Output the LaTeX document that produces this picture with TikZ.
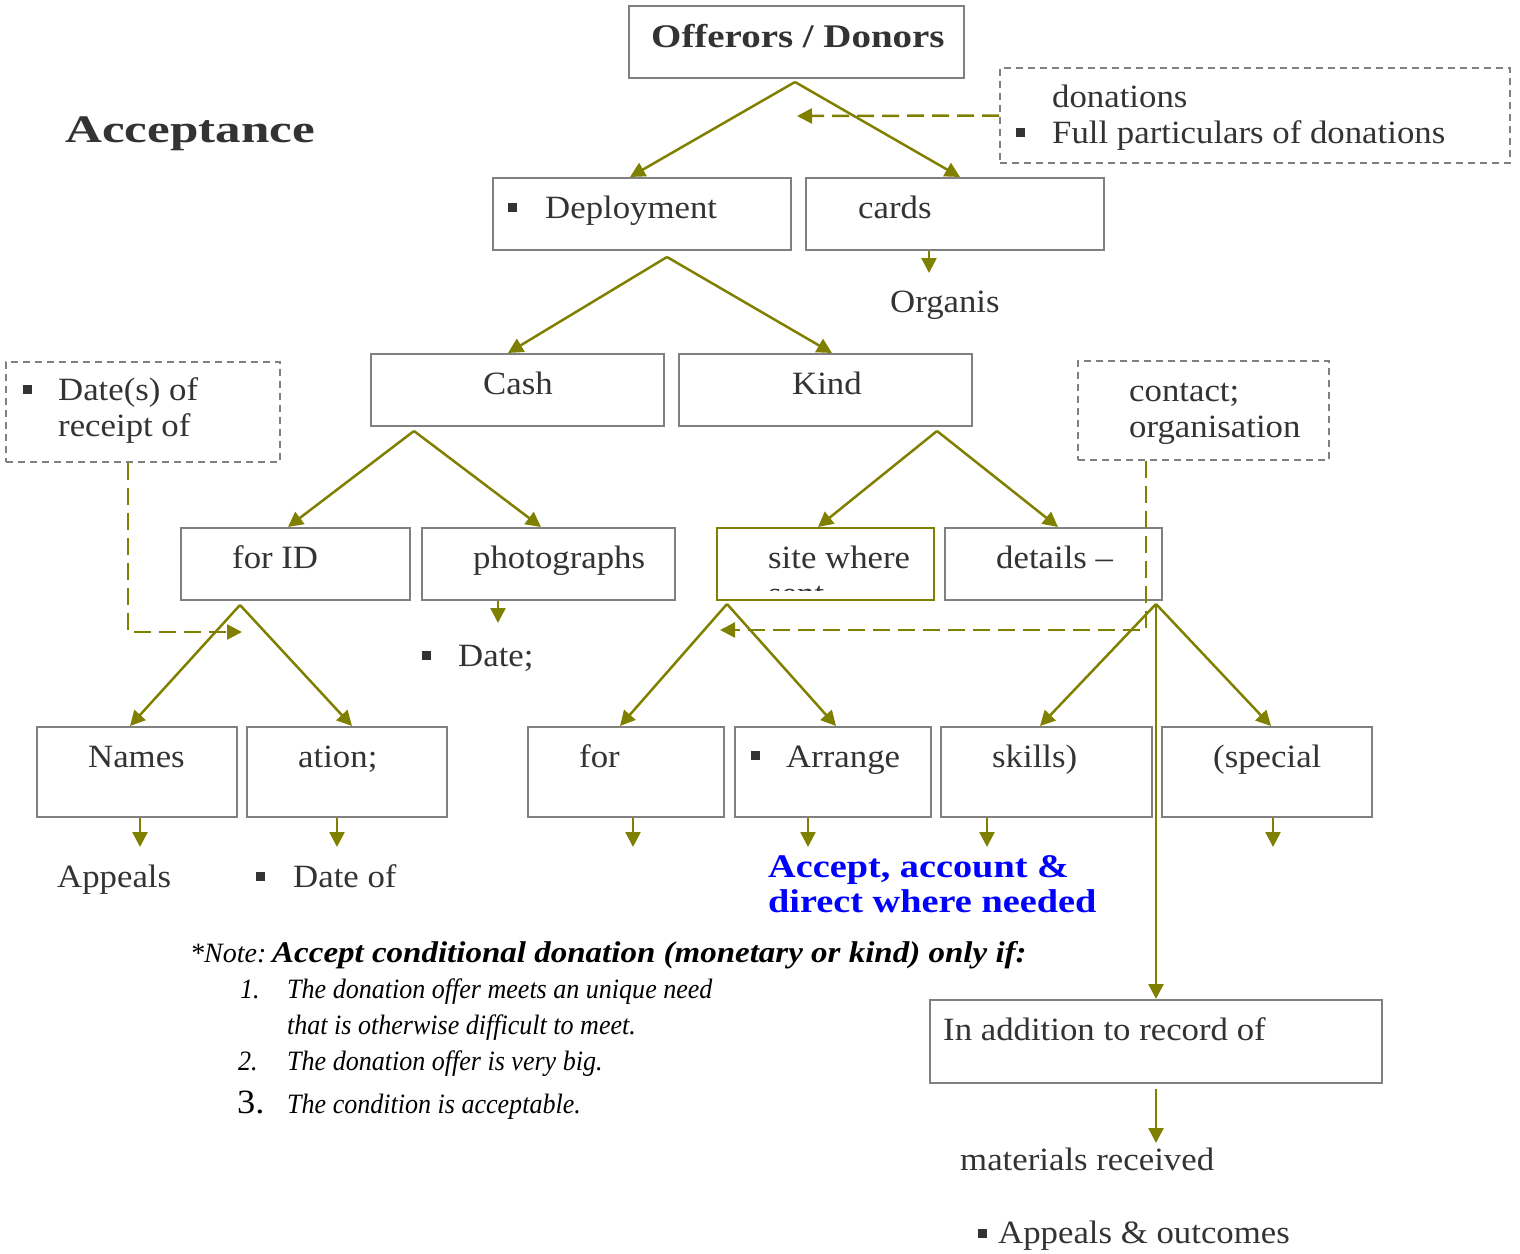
\documentclass[tikz,border=0pt]{standalone}
\usepackage{fontspec}
\usetikzlibrary{arrows.meta}
\setmainfont{Liberation Serif}
\newfontfamily\bodyf{Liberation Serif}[FakeStretch=1.07]
\newfontfamily\headf{Liberation Serif}[FakeStretch=1.18]
\newfontfamily\bluef{Liberation Serif}[FakeStretch=1.16]
\newfontfamily\titlef{Liberation Serif}[FakeStretch=1.31]
\newfontfamily\notef{Liberation Serif}[FakeStretch=0.93]
\newfontfamily\notebf{Liberation Serif}[FakeStretch=1.1]
\definecolor{inkgray}{HTML}{333333}
\definecolor{framegray}{HTML}{808080}
\definecolor{oliveline}{HTML}{808000}
\definecolor{callblue}{HTML}{0000FF}
\tikzset{
  frame/.style={draw=framegray, line width=2pt, fill=white, inner sep=0pt},
  dashframe/.style={draw=framegray, line width=1.6pt, dash pattern=on 7pt off 5pt, inner sep=0pt},
  txt/.style={inner sep=0pt, anchor=base west, text=inkgray, font=\bodyf\fontsize{32.5}{36}\selectfont},
  headtxt/.style={inner sep=0pt, anchor=base west, text=inkgray, font=\headf\bfseries\fontsize{33}{36}\selectfont},
  bluetxt/.style={inner sep=0pt, anchor=base west, text=callblue, font=\bluef\bfseries\fontsize{33}{36}\selectfont},
  notetxt/.style={inner sep=0pt, anchor=base west, text=black, font=\notef\itshape\fontsize{28}{32}\selectfont},
  bul/.style={fill=inkgray, inner sep=0pt, minimum size=9pt},
  arr/.style={draw=oliveline, line width=2.5pt, -{Triangle[length=15pt,width=15pt]}},
  darr/.style={draw=oliveline, line width=2.5pt, dash pattern=on 17pt off 8pt, -{Triangle[length=15pt,width=15pt]}},
}
\begin{document}
\begin{tikzpicture}[x=1pt,y=-1pt]
\useasboundingbox (0,0) rectangle (1520,1253);

% ---------- boxes ----------
\node[frame, minimum width=335pt, minimum height=72pt] (off) at (796.5,42) {};
\node[frame, minimum width=298pt, minimum height=72pt] (dep) at (642,214) {};
\node[frame, minimum width=298pt, minimum height=72pt] (cards) at (955,214) {};
\node[frame, minimum width=293pt, minimum height=72pt] (cash) at (517.5,390) {};
\node[frame, minimum width=293pt, minimum height=72pt] (kind) at (825.5,390) {};
\node[frame, minimum width=229pt, minimum height=72pt] (forid) at (295.5,564) {};
\node[frame, minimum width=253pt, minimum height=72pt] (photo) at (548.5,564) {};
\node[frame, draw=oliveline, minimum width=217pt, minimum height=72pt] (site) at (825.5,564) {};
\node[frame, minimum width=217pt, minimum height=72pt] (det) at (1053.5,564) {};
\node[frame, minimum width=200pt, minimum height=90pt] (names) at (137,772) {};
\node[frame, minimum width=200pt, minimum height=90pt] (ation) at (347,772) {};
\node[frame, minimum width=196pt, minimum height=90pt] (forb) at (626,772) {};
\node[frame, minimum width=196pt, minimum height=90pt] (arrb) at (833,772) {};
\node[frame, minimum width=211pt, minimum height=90pt] (skills) at (1046.5,772) {};
\node[frame, minimum width=210pt, minimum height=90pt] (special) at (1267,772) {};
\node[frame, minimum width=452pt, minimum height=83pt] (addn) at (1156,1041.5) {};

% dashed side boxes
\node[dashframe, minimum width=510pt, minimum height=95pt] (dpart) at (1255,115.5) {};
\node[dashframe, minimum width=274pt, minimum height=100pt] (drec) at (143,412) {};
\node[dashframe, minimum width=251pt, minimum height=99pt] (dcon) at (1203.5,410.5) {};

% ---------- texts ----------
\node[inner sep=0pt, anchor=base west, text=inkgray, font=\titlef\bfseries\fontsize{39}{44}\selectfont] (title) at (65,142) {Acceptance};
\node[headtxt] (offT) at (651,47) {Offerors / Donors};

\node[txt] (dpartT1) at (1052,107) {donations};
\node[bul] (dpartB) at (1020.5,132.5) {};
\node[txt] (dpartT2) at (1052,143) {Full particulars of donations};

\node[bul] (depB) at (512.5,207) {};
\node[txt] (depT) at (545,218) {Deployment};
\node[txt] (cardsT) at (858,218) {cards};
\node[txt] (orgT) at (890,312) {Organis};

\node[txt] (cashT) at (483,394) {Cash};
\node[txt] (kindT) at (792,394) {Kind};

\node[bul] (drecB) at (27.5,389) {};
\node[txt] (drecT1) at (58,400) {Date(s) of};
\node[txt] (drecT2) at (58,436) {receipt of};
\node[txt] (dconT1) at (1129,401) {contact;};
\node[txt] (dconT2) at (1129,437) {organisation};

\node[txt] (foridT) at (232,568) {for ID};
\node[txt] (photoT) at (473,568) {photographs};
\node[txt] (siteT1) at (768,568) {site where};
\begin{scope}
  \clip (718,529) rectangle (933,590);
  \node[txt] (siteT2) at (768,604) {sent};
\end{scope}
\node[txt] (detT) at (996,568) {details –};

\node[bul] (dateB) at (426,655) {};
\node[txt] (dateT) at (458,666) {Date;};

\node[txt] (namesT) at (88,767) {Names};
\node[txt] (ationT) at (298,767) {ation;};
\node[txt] (forbT) at (579,767) {for};
\node[bul] (arrbB) at (755,755) {};
\node[txt] (arrbT) at (786,767) {Arrange};
\node[txt] (skillsT) at (992,767) {skills)};
\node[txt] (specialT) at (1213,767) {(special};

\node[txt] (appT) at (57,887) {Appeals};
\node[bul] (dofB) at (260.5,876) {};
\node[txt] (dofT) at (293,887) {Date of};

\node[bluetxt] (blue1) at (768,877) {Accept, account \&};
\node[bluetxt] (blue2) at (768,912) {direct where needed};

% conditions note
\node[inner sep=0pt, anchor=base west, text=black, font=\rmfamily\itshape\fontsize{28}{32}\selectfont] (noteA) at (190,962) {*Note:};
\node[inner sep=0pt, anchor=base west, text=black, font=\notebf\bfseries\itshape\fontsize{30}{32}\selectfont] (noteB) at (272,962) {Accept conditional donation (monetary or kind) only if:};
\node[notetxt] (n1) at (240,998) {1.};
\node[notetxt] (n1a) at (287,998) {The donation offer meets an unique need};
\node[notetxt] (n1b) at (287,1034) {that is otherwise difficult to meet.};
\node[notetxt] (n2) at (238,1070) {2.};
\node[notetxt] (n2a) at (287,1070) {The donation offer is very big.};
\node[inner sep=0pt, anchor=base west, text=black, font=\bodyf\fontsize{34}{36}\selectfont] (n3) at (237,1113) {3.};
\node[notetxt] (n3a) at (287,1113) {The condition is acceptable.};

\node[txt] (addnT) at (943,1040) {In addition to record of};
\node[txt] (matT) at (960,1170) {materials received};
\node[bul] (appoB) at (982.5,1233) {};
\node[txt] (appoT) at (998,1243) {Appeals \& outcomes};

% ---------- branching points ----------
\coordinate (offF) at (795,82);
\coordinate (depF) at (667,257);
\coordinate (cashF) at (414,431);
\coordinate (kindF) at (937,431);
\coordinate (foridF) at (240,605);
\coordinate (siteF) at (727,604);
\coordinate (detF) at (1156,604);

% free ends of the short arrows
\coordinate (cardsE) at (929,273);
\coordinate (photoE) at (498,623);
\coordinate (namesE) at (140,847);
\coordinate (ationE) at (337,847);
\coordinate (forbE) at (633,847);
\coordinate (arrbE) at (808,847);
\coordinate (skillsE) at (987,847);
\coordinate (specialE) at (1273,847);
\coordinate (addnE) at (1156,1143);
\coordinate (dpartE) at (797,116);
\coordinate (drecE) at (242,632);
\coordinate (dconE) at (720,630);

% ---------- connectors ----------
\draw[arr] (offF) -- ([xshift=-12pt]dep.north);
\draw[arr] (offF) -- ([xshift=5pt]cards.north);
\draw[arr] (depF) -- ([xshift=-9.5pt]cash.north);
\draw[arr] (depF) -- ([xshift=6.5pt]kind.north);
\draw[arr] (cashF) -- ([xshift=-7.5pt]forid.north);
\draw[arr] (cashF) -- ([xshift=-7.5pt]photo.north);
\draw[arr] (kindF) -- ([xshift=-7.5pt]site.north);
\draw[arr] (kindF) -- ([xshift=4.5pt]det.north);
\draw[arr] (foridF) -- ([xshift=-7pt]names.north);
\draw[arr] (foridF) -- ([xshift=5pt]ation.north);
\draw[arr] (siteF) -- ([xshift=-6pt]forb.north);
\draw[arr] (siteF) -- ([xshift=3pt]arrb.north);
\draw[arr] (detF) -- ([xshift=-6.5pt]skills.north);
\draw[arr] (detF) -- ([xshift=4pt]special.north);
\draw[arr] (detF) -- (addn.north);

\draw[arr] (cards.south -| cardsE) -- (cardsE);
\draw[arr] (photo.south -| photoE) -- (photoE);
\draw[arr] (names.south -| namesE) -- (namesE);
\draw[arr] (ation.south -| ationE) -- (ationE);
\draw[arr] (forb.south -| forbE) -- (forbE);
\draw[arr] (arrb.south -| arrbE) -- (arrbE);
\draw[arr] (skills.south -| skillsE) -- (skillsE);
\draw[arr] (special.south -| specialE) -- (specialE);
\draw[arr] ([yshift=-5pt]addn.south) -- (addnE);

\draw[darr] (dpart.west) -- (dpartE);
\draw[darr] ([xshift=-15pt]drec.south) |- (drecE);
\draw[darr] ([xshift=-57.5pt]dcon.south) |- (dconE);
\end{tikzpicture}
\end{document}
